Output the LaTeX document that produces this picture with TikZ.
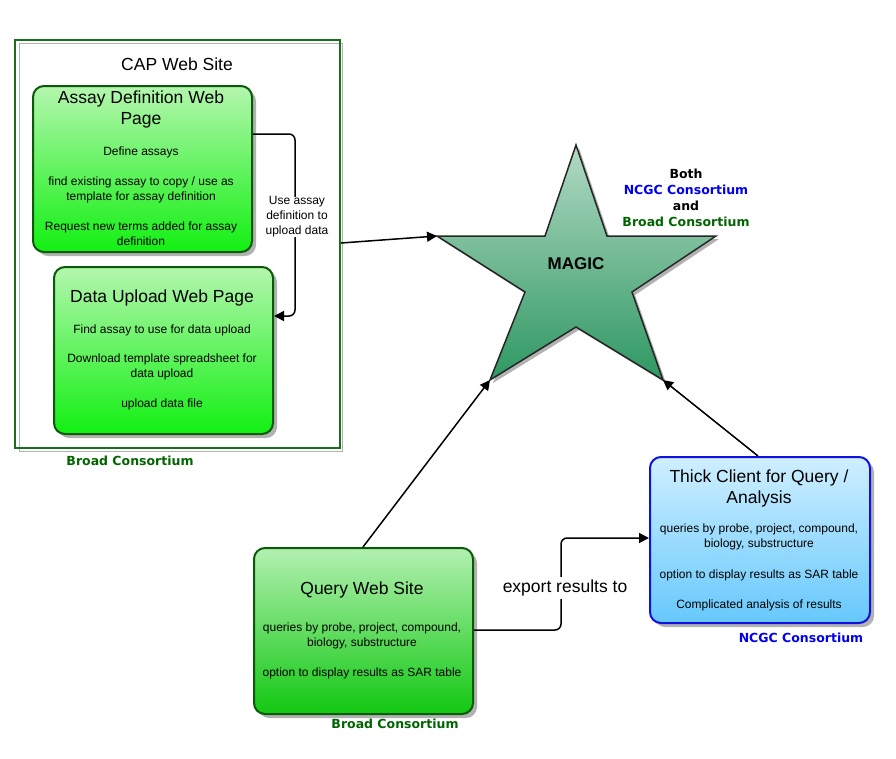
\documentclass[tikz,border=0pt]{standalone}
\usepackage{fontspec}
\setmainfont{Liberation Sans}
\newfontfamily\lblfont{DejaVu Sans}
\usetikzlibrary{arrows.meta,shadows}
\definecolor{boxgreen}{HTML}{0A5A0A}
\definecolor{framegreen}{HTML}{17701A}
\definecolor{gtop}{HTML}{B4F6AE}
\definecolor{gbot}{HTML}{12F012}
\definecolor{qtop}{HTML}{B2F0B0}
\definecolor{qbot}{HTML}{12C812}
\definecolor{btop}{HTML}{CFEFFF}
\definecolor{bbot}{HTML}{66C8FC}
\definecolor{bborder}{HTML}{1010E0}
\definecolor{startop}{HTML}{B2D9C4}
\definecolor{starbot}{HTML}{2E9862}
\definecolor{lblgreen}{HTML}{006400}
\definecolor{lblblue}{HTML}{0000EE}
\begin{document}
\begin{tikzpicture}[x=1pt,y=-1pt,
  box/.style={draw, line width=2pt, rounded corners=11pt, anchor=north west, inner sep=0pt,
    minimum width=219pt, minimum height=166pt,
    drop shadow={shadow xshift=4pt, shadow yshift=-4pt, fill=black!30, opacity=1}},
  greenbox/.style={box, draw=boxgreen, top color=gtop, bottom color=gbot},
  qbox/.style={box, draw=boxgreen, top color=qtop, bottom color=qbot},
  bluebox/.style={box, draw=bborder, top color=btop, bottom color=bbot},
  title/.style={align=center, font=\fontsize{17.5}{21}\selectfont, inner sep=0pt},
  body/.style={align=center, font=\fontsize{12}{15}\selectfont, inner sep=0pt},
  lbl/.style={align=center, font=\lblfont\bfseries\fontsize{12.5}{16}\selectfont, inner sep=0pt},
  conn/.style={line width=1.5pt, -{Triangle[length=10pt,width=10pt]}},
  elbow/.style={conn, rounded corners=6pt},
  edgelbl/.style={fill=white, inner sep=2pt, align=center}]
\useasboundingbox (0,0) rectangle (896,758);

% CAP frame
\draw[black!30, line width=0.8pt] (19,43) rectangle (342,451);
\node[draw=framegreen, line width=2pt, anchor=north west, minimum width=325pt, minimum height=408pt, inner sep=0pt] (cap) at (14,39) {};
\node[title] (captitle) at (177,64) {CAP Web Site};

% Assay definition box
\node[greenbox] (adef) at (32,85) {};
\node[title] (adeft) at (141,109.5) {Assay Definition Web\\Page};
\node[body] (adefb) at (141,196) {Define assays\\[15pt]find existing assay to copy / use as\\template for assay definition\\[15pt]Request new terms added for assay\\definition};

% Data upload box
\node[greenbox, minimum height=167pt] (dup) at (53,266) {};
\node[title] (dupt) at (162,298) {Data Upload Web Page};
\node[body] (dupb) at (162,367) {Find assay to use for data upload\\[14pt]Download template spreadsheet for\\data upload\\[15pt]upload data file};

% Query box
\node[qbox] (query) at (253,547) {};
\node[title] (queryt) at (362,590) {Query Web Site};
\node[body] (queryb) at (362,651) {queries by probe, project, compound,\\biology, substructure\\[15pt]option to display results as SAR table};

% Thick client box
\node[bluebox, minimum width=220pt] (thick) at (649,456) {};
\node[title] (thickt) at (759,488) {Thick Client for Query /\\Analysis};
\node[body] (thickb) at (759,567) {queries by probe, project, compound,\\biology, substructure\\[16pt]option to display results as SAR table\\[15pt]Complicated analysis of results};

% Star
\coordinate (sT) at (576,145);
\coordinate (sL) at (437,236);
\coordinate (sR) at (716,236);
\coordinate (sBL) at (490,380);
\coordinate (sBR) at (663,380);
\fill[black!30] ([shift={(3,3)}]sT) -- ([shift={(3,3)}]607,236) -- ([shift={(3,3)}]sR) -- ([shift={(3,3)}]632,292) -- ([shift={(3,3)}]sBR) -- ([shift={(3,3)}]576,327) -- ([shift={(3,3)}]sBL) -- ([shift={(3,3)}]525,292) -- ([shift={(3,3)}]sL) -- ([shift={(3,3)}]545,236) -- cycle;
\path[draw=black!85, line width=1.5pt, top color=startop, bottom color=starbot]
  (sT) -- (607,236) -- (sR) -- (632,292) -- (sBR) -- (576,327) -- (sBL) -- (525,292) -- (sL) -- (545,236) -- cycle;
\node[font=\bfseries\fontsize{17}{20}\selectfont, inner sep=0pt] (magic) at (576,264) {MAGIC};
\node[lbl] (both) at (686,198) {Both\\\textcolor{lblblue}{NCGC Consortium}\\and\\\textcolor{lblgreen}{Broad Consortium}};

% Consortium labels
\node[lbl, text=lblgreen] (bc1) at (130,461) {Broad Consortium};
\node[lbl, text=lblgreen] (bc2) at (395,724) {Broad Consortium};
\node[lbl, text=lblblue] (nc1) at (801,638) {NCGC Consortium};

% Connectors
\draw[elbow] ([yshift=-49pt]adef.north east) -- (295,134) -- (295,316) -- (dup.east |- 0,316);
\node[edgelbl, body] (uselbl) at (297,217) {Use assay\\definition to\\upload data};
\draw[conn] (cap.east |- 0,243) -- (sL);
\draw[conn] (query.north -| 363,0) -- (sBL);
\draw[conn] (thick.north -| 758,0) -- (sBR);
\draw[elbow] (query.east |- 0,630) -- (561,630) -- (561,538) -- (thick.west |- 0,538);
\node[edgelbl, font=\fontsize{17.5}{21}\selectfont, inner sep=3pt] (explbl) at (565,588) {export results to};
\end{tikzpicture}
\end{document}
